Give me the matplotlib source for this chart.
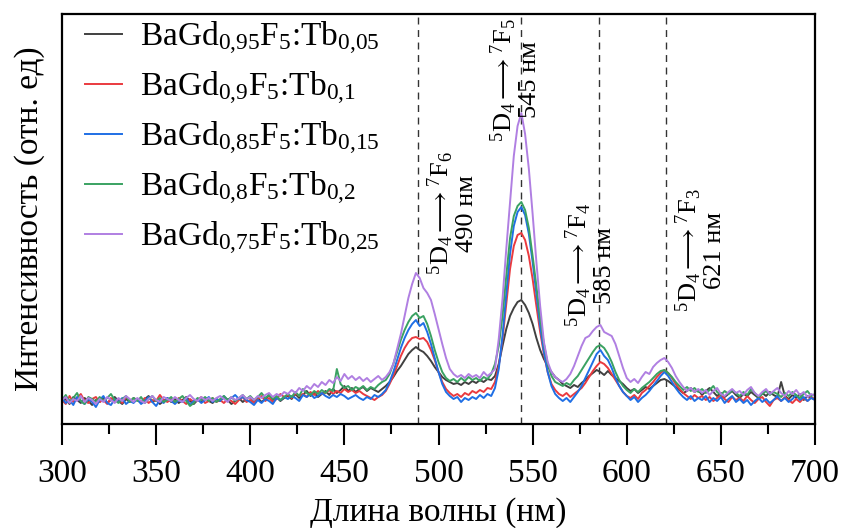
import numpy as np
import matplotlib
matplotlib.use("Agg")
import matplotlib.pyplot as plt
from matplotlib.ticker import MultipleLocator

plt.rcParams['font.family'] = ['Liberation Serif', 'DejaVu Serif']
plt.rcParams['mathtext.fontset'] = 'custom'
plt.rcParams['mathtext.rm'] = 'Liberation Serif'
plt.rcParams['mathtext.it'] = 'Liberation Serif:italic'
plt.rcParams['mathtext.bf'] = 'Liberation Serif:bold'
plt.rcParams['mathtext.fallback'] = 'stix'

# wavelength grid, 2 nm step (300..700)
wavelength = np.arange(300, 701, 2)

# intensities (arb. units)
tb005 = [22, 25, 20, 27, 24, 21, 26, 23, 19, 24,
         22, 26, 21, 24, 27, 23, 20, 25, 22, 26,
         24, 21, 25, 28, 22, 24, 20, 23, 26, 22,
         25, 21, 24, 27, 23, 20, 24, 22, 26, 23,
         21, 25, 23, 27, 24, 20, 23, 26, 22, 25,
         27, 23, 26, 22, 25, 29, 24, 27, 23, 26,
         28, 25, 30, 26, 29, 33, 28, 31, 27, 30,
         33, 29, 35, 31, 34, 38, 33, 36, 32, 35,
         37, 33, 36, 34, 32, 35, 38, 42, 47, 53,
         58, 64, 70, 74, 77, 74, 72, 68, 63, 57,
         52, 47, 44, 42, 40, 41, 39, 42, 40, 43,
         41, 44, 42, 45, 44, 48, 60, 78, 95, 108,
         116, 122, 124, 119, 111, 100, 86, 74, 65, 58,
         52, 47, 44, 40, 38, 36, 39, 37, 41, 44,
         48, 51, 54, 52, 49, 53, 49, 46, 43, 40,
         36, 33, 35, 31, 34, 37, 35, 38, 41, 44,
         45, 43, 40, 37, 34, 31, 33, 36, 32, 34,
         29, 33, 36, 32, 28, 31, 27, 30, 33, 29,
         26, 30, 28, 32, 29, 26, 31, 28, 32, 29,
         27, 42, 28, 25, 29, 26, 30, 24, 28, 26,
         25]
tb01 = [24, 20, 28, 22, 26, 30, 23, 21, 25, 27,
        22, 24, 20, 26, 23, 25, 21, 27, 24, 22,
        25, 22, 26, 21, 24, 23, 29, 24, 22, 25,
        21, 26, 23, 20, 25, 22, 24, 27, 21, 23,
        26, 22, 24, 21, 25, 23, 20, 24, 27, 22,
        24, 21, 25, 28, 23, 26, 22, 25, 30, 27,
        29, 26, 31, 28, 30, 27, 32, 29, 33, 30,
        31, 34, 30, 33, 31, 35, 32, 34, 31, 33,
        30, 28, 26, 24, 27, 29, 33, 40, 48, 58,
        68, 76, 82, 86, 87, 85, 86, 82, 74, 64,
        52, 42, 35, 31, 28, 30, 27, 31, 29, 33,
        31, 34, 32, 36, 35, 42, 58, 85, 120, 155,
        178, 189, 191, 184, 168, 145, 118, 92, 70, 52,
        40, 34, 30, 28, 31, 27, 30, 33, 36, 41,
        47, 53, 58, 62, 60, 56, 50, 44, 38, 32,
        28, 26, 29, 25, 31, 34, 38, 42, 47, 51,
        54, 51, 46, 40, 35, 31, 28, 25, 29, 26,
        28, 24, 27, 23, 26, 29, 25, 22, 27, 24,
        26, 23, 28, 24, 21, 25, 27, 22, 18, 24,
        26, 23, 27, 24, 21, 25, 22, 26, 23, 27,
        24]
tb015 = [26, 21, 24, 19, 27, 23, 20, 25, 22, 17,
         24, 28, 21, 19, 25, 22, 26, 20, 23, 21,
         25, 20, 23, 27, 22, 18, 24, 21, 26, 23,
         20, 24, 22, 26, 19, 23, 25, 21, 24, 27,
         22, 25, 23, 28, 24, 26, 29, 25, 27, 24,
         22, 19, 24, 21, 25, 23, 20, 26, 24, 27,
         25, 28, 26, 23, 29, 27, 30, 26, 28, 31,
         28, 26, 29, 27, 30, 28, 25, 27, 29, 26,
         24, 27, 25, 29, 27, 30, 34, 42, 52, 64,
         76, 86, 94, 100, 104, 98, 101, 92, 80, 66,
         52, 40, 32, 28, 25, 27, 22, 26, 24, 27,
         25, 29, 26, 30, 28, 36, 55, 88, 130, 170,
         198, 212, 217, 209, 190, 162, 130, 98, 72, 52,
         38, 30, 26, 23, 26, 22, 27, 32, 38, 46,
         54, 62, 70, 74, 68, 64, 56, 46, 38, 32,
         28, 24, 27, 22, 26, 29, 33, 38, 43, 48,
         52, 48, 42, 36, 31, 27, 24, 28, 23, 26,
         24, 28, 22, 26, 23, 27, 21, 25, 28, 22,
         25, 21, 24, 19, 23, 26, 22, 25, 21, 24,
         28, 23, 26, 22, 25, 29, 24, 27, 23, 26,
         24]
tb02 = [24, 29, 22, 26, 31, 23, 20, 27, 25, 22,
        27, 23, 26, 30, 24, 21, 25, 28, 22, 26,
        23, 27, 21, 25, 28, 23, 26, 22, 24, 27,
        22, 25, 28, 23, 18, 21, 26, 24, 27, 23,
        26, 22, 25, 28, 24, 27, 23, 26, 29, 25,
        28, 24, 27, 31, 26, 29, 25, 28, 24, 27,
        30, 27, 32, 28, 35, 31, 29, 33, 30, 34,
        31, 35, 33, 55, 40, 36, 38, 34, 37, 35,
        38, 34, 37, 35, 39, 42, 44, 50, 60, 72,
        84, 94, 102, 108, 111, 106, 108, 100, 88, 74,
        62, 52, 46, 43, 45, 42, 46, 43, 47, 44,
        46, 43, 47, 45, 50, 60, 78, 108, 148, 186,
        208, 218, 222, 214, 196, 168, 138, 106, 80, 60,
        48, 42, 40, 38, 41, 39, 44, 48, 54, 60,
        66, 72, 77, 79, 76, 70, 62, 52, 44, 38,
        34, 31, 35, 32, 36, 39, 42, 46, 50, 53,
        54, 51, 47, 42, 38, 34, 37, 33, 36, 32,
        35, 31, 34, 38, 32, 29, 33, 30, 34, 31,
        28, 32, 29, 35, 31, 27, 30, 33, 29, 32,
        30, 27, 31, 28, 32, 29, 26, 30, 33, 28,
        30]
tb025 = [24, 27, 21, 25, 23, 28, 22, 26, 24, 20,
         25, 22, 27, 24, 21, 26, 23, 28, 25, 22,
         26, 23, 21, 25, 28, 24, 22, 27, 25, 23,
         27, 24, 22, 26, 29, 25, 23, 27, 24, 26,
         23, 26, 28, 25, 22, 27, 24, 26, 29, 25,
         27, 24, 28, 26, 29, 31, 27, 30, 28, 32,
         30, 34, 31, 36, 33, 38, 35, 40, 37, 42,
         39, 44, 41, 47, 43, 50, 45, 48, 44, 47,
         43, 46, 42, 45, 48, 44, 47, 52, 60, 75,
         90, 108, 126, 140, 151, 146, 136, 131, 124, 110,
         95, 80, 66, 55, 50, 47, 49, 46, 50, 47,
         49, 46, 52, 48, 51, 55, 85, 125, 175, 222,
         268, 298, 311, 290, 255, 210, 162, 118, 82, 62,
         52, 47, 44, 42, 45, 50, 58, 68, 78, 86,
         88, 93, 97, 99, 92, 90, 88, 80, 68, 56,
         46, 42, 45, 41, 47, 52, 50, 57, 61, 64,
         66, 62, 56, 48, 42, 37, 33, 36, 32, 35,
         31, 34, 29, 33, 36, 30, 28, 32, 35, 31,
         33, 29, 34, 37, 31, 28, 32, 35, 30, 33,
         36, 31, 28, 33, 30, 34, 29, 32, 27, 30,
         28]

series = [tb005, tb01, tb015, tb02, tb025]
labels = [r"BaGd$_{0{,}95}$F$_5$:Tb$_{0{,}05}$",
          r"BaGd$_{0{,}9}$F$_5$:Tb$_{0{,}1}$",
          r"BaGd$_{0{,}85}$F$_5$:Tb$_{0{,}15}$",
          r"BaGd$_{0{,}8}$F$_5$:Tb$_{0{,}2}$",
          r"BaGd$_{0{,}75}$F$_5$:Tb$_{0{,}25}$"]
colors = ['#404040', '#ea3a3f', '#1f6fe5', '#3aa262', '#b07fe2']

# transition lines and labels
line_pos = [489, 544, 585, 621]
trans_labels = [r"$^5$D$_4$$\longrightarrow$$^7$F$_6$" + "\n490 нм",
                r"$^5$D$_4$$\longrightarrow$$^7$F$_5$" + "\n545 нм",
                r"$^5$D$_4$$\longrightarrow$$^7$F$_4$" + "\n585 нм",
                r"$^5$D$_4$$\longrightarrow$$^7$F$_3$" + "\n621 нм"]
label_x = [507, 540.5, 580.5, 639]
label_y = [211, 344, 159, 174]

fig = plt.figure(figsize=(8.41, 5.28), dpi=100)
ax = fig.add_axes([62/841, 1 - 424/528, (815 - 62)/841, (424 - 14)/528])

for y, lab, c in zip(series, labels, colors):
    ax.plot(wavelength, y, color=c, lw=1.4, label=lab)

for xp in line_pos:
    ax.axvline(xp, color='#333333', lw=1.0, ls=(0, (5, 4)), zorder=0.5)

for tx, ty, t in zip(label_x, label_y, trans_labels):
    ax.text(tx, ty, t, rotation=90, ha='center', va='center',
            multialignment='center', fontsize=19, linespacing=1.0)

ax.set_xlim(300, 700)
ax.set_ylim(0, 410)
ax.xaxis.set_major_locator(MultipleLocator(50))
ax.xaxis.set_minor_locator(MultipleLocator(25))
ax.tick_params(axis='x', which='major', direction='out', length=15, width=1.5,
               labelsize=24, pad=10)
ax.tick_params(axis='x', which='minor', direction='out', length=7.5, width=1.5)
ax.set_yticks([])
for sp in ax.spines.values():
    sp.set_linewidth(1.6)

ax.set_xlabel("Длина волны (нм)", fontsize=24, labelpad=6)
ax.set_ylabel("Интенсивность (отн. ед)", fontsize=24, labelpad=12)

ax.legend(loc='upper left', frameon=False, fontsize=24, handlelength=1.1,
          handletextpad=0.55, labelspacing=0.38, borderaxespad=0.2,
          bbox_to_anchor=(0.004, 1.035))

fig.savefig("out.png", dpi=100)
